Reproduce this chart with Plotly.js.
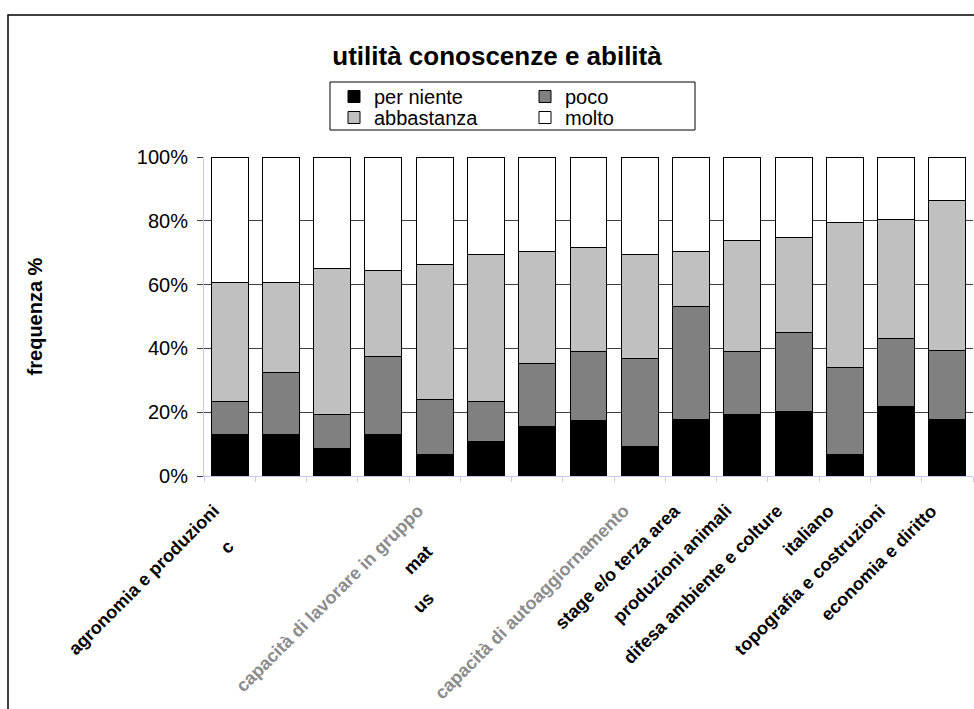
<!DOCTYPE html>
<html>
<head>
<meta charset="utf-8">
<script src="https://cdn.plot.ly/plotly-3.0.1.min.js"></script>
<style>html,body{margin:0;padding:0;background:#fff;}#chart{width:974px;height:709px;}</style>
</head>
<body>
<div id="chart"></div>
<script>
// ---- data ----
var categories = ["agronomia e produzioni", "", "", "", "capacità di lavorare in gruppo", "", "", "",
  "capacità di autoaggiornamento", "stage e/o terza area", "produzioni animali",
  "difesa ambiente e colture", "italiano", "topografia e costruzioni", "economia e diritto"];
var clippedLabels = ["c", "mat", "us"];
var seriesNames = ["per niente", "poco", "abbastanza", "molto"];
var perNiente  = [12.9, 12.9, 8.7, 12.9, 6.7, 10.8, 15.5, 17.5, 9.2, 17.8, 19.3, 20.2, 6.7, 21.7, 17.8];
var poco       = [10.6, 19.5, 10.5, 24.7, 17.3, 12.7, 19.7, 21.4, 27.6, 35.4, 19.6, 24.9, 27.3, 21.3, 21.7];
var abbastanza = [37.1, 28.2, 45.8, 26.7, 42.2, 45.9, 35.3, 32.7, 32.6, 17.3, 35.0, 29.6, 45.4, 37.3, 47.0];
var molto      = [39.4, 39.4, 35.0, 35.7, 33.8, 30.6, 29.5, 28.4, 30.6, 29.5, 26.1, 25.3, 20.6, 19.7, 13.5];
var yTicks = [0, 20, 40, 60, 80, 100];
var yTickText = ["0%", "20%", "40%", "60%", "80%", "100%"];

// ---- drawing ----
var FONT = "Arial, 'Liberation Sans', sans-serif";
var xIdx = categories.map(function (_, i) { return i; });
var colors = ["#000000", "#808080", "#c0c0c0", "#ffffff"];
var legendIds = ["legend", "legend2", "legend3", "legend4"];
var values = [perNiente, poco, abbastanza, molto];

var traces = values.map(function (v, k) {
  return {
    type: "bar", x: xIdx, y: v, name: seriesNames[k], width: 0.72,
    marker: { color: colors[k], line: { color: "#000", width: 1 } },
    legend: legendIds[k], showlegend: true, hoverinfo: "name+y"
  };
});

// plot area pixel geometry helpers (for decoration placement)
var L = 204, R = 1, T = 157, B = 233, W = 974, H = 709;
var pw = W - L - R, ph = H - T - B;
function px2x(p) { return (p - L) / pw; }
function py2y(p) { return (H - B - p) / ph; }

var annotations = [];
categories.forEach(function (c, i) {
  if (!c) return;
  var grey = c.indexOf("capacità") === 0;
  annotations.push({
    x: i, xref: "x", y: 0, yref: "paper", xanchor: "right", yanchor: "top",
    xshift: -4, yshift: -22, textangle: -45, showarrow: false, text: c,
    font: { family: FONT, size: 18, color: grey ? "#8c8c8c" : "#000", weight: "bold" }
  });
});
var clipPos = [[227, 547], [418, 560], [423, 603]];
clippedLabels.forEach(function (t, i) {
  annotations.push({
    x: px2x(clipPos[i][0]), y: py2y(clipPos[i][1]), xref: "paper", yref: "paper",
    xanchor: "center", yanchor: "middle", textangle: -45, showarrow: false, text: t,
    font: { family: FONT, size: 18, color: "#000", weight: "bold" }
  });
});

var shapes = [
  { type: "rect", xref: "paper", yref: "paper", x0: px2x(8), x1: px2x(995), y0: py2y(15), y1: py2y(740),
    line: { color: "#000", width: 1.5 }, fillcolor: "rgba(0,0,0,0)" },
  { type: "rect", xref: "paper", yref: "paper", x0: px2x(330), x1: px2x(695), y0: py2y(130), y1: py2y(82),
    line: { color: "#000", width: 1 }, fillcolor: "rgba(0,0,0,0)" }
];

function legendAt(pxLeft, pyTop) {
  return { visible: true, x: px2x(pxLeft), xanchor: "left", y: py2y(pyTop), yanchor: "top", bgcolor: "rgba(0,0,0,0)",
    borderwidth: 0, font: { family: FONT, size: 20, color: "#000" } };
}

var layout = {
  width: W, height: H,
  showlegend: true,
  margin: { l: L, r: R, t: T, b: B, pad: 0 },
  paper_bgcolor: "#fff", plot_bgcolor: "#fff",
  barmode: "stack",
  font: { family: FONT, color: "#000" },
  title: { text: "<b>utilità conoscenze e abilità</b>", x: 497 / W, xanchor: "center", xref: "container",
    y: 1 - 56 / H, yanchor: "middle", yref: "container", font: { family: FONT, size: 26, color: "#000" } },
  xaxis: {
    range: [-0.5, categories.length - 0.5], tickvals: xIdx.map(function (i) { return i - 0.5; }).concat([categories.length - 0.5]),
    showticklabels: false, ticks: "outside", ticklen: 5, tickcolor: "#c8c8ee",
    showline: true, linecolor: "#c8c8ee", linewidth: 1, showgrid: false, zeroline: false, fixedrange: true
  },
  yaxis: {
    range: [0, 100], tickvals: yTicks, ticktext: yTickText, ticks: "outside", ticklen: 6, tickcolor: "#404040",
    ticklabelstandoff: 5,
    showline: true, linecolor: "#c8c8ee", linewidth: 1, showgrid: true, gridcolor: "#404040", gridwidth: 1,
    zeroline: false, tickfont: { family: FONT, size: 20, color: "#000" }, fixedrange: true,
    title: { text: "<b>frequenza %</b>", font: { family: FONT, size: 20, color: "#000" }, standoff: 88 }
  },
  legend: legendAt(334, 77),
  legend2: legendAt(525, 77),
  legend3: legendAt(334, 98),
  legend4: legendAt(525, 98),
  annotations: annotations,
  shapes: shapes
};

Plotly.newPlot("chart", traces, layout, { displayModeBar: false, staticPlot: true });
</script>
</body>
</html>
